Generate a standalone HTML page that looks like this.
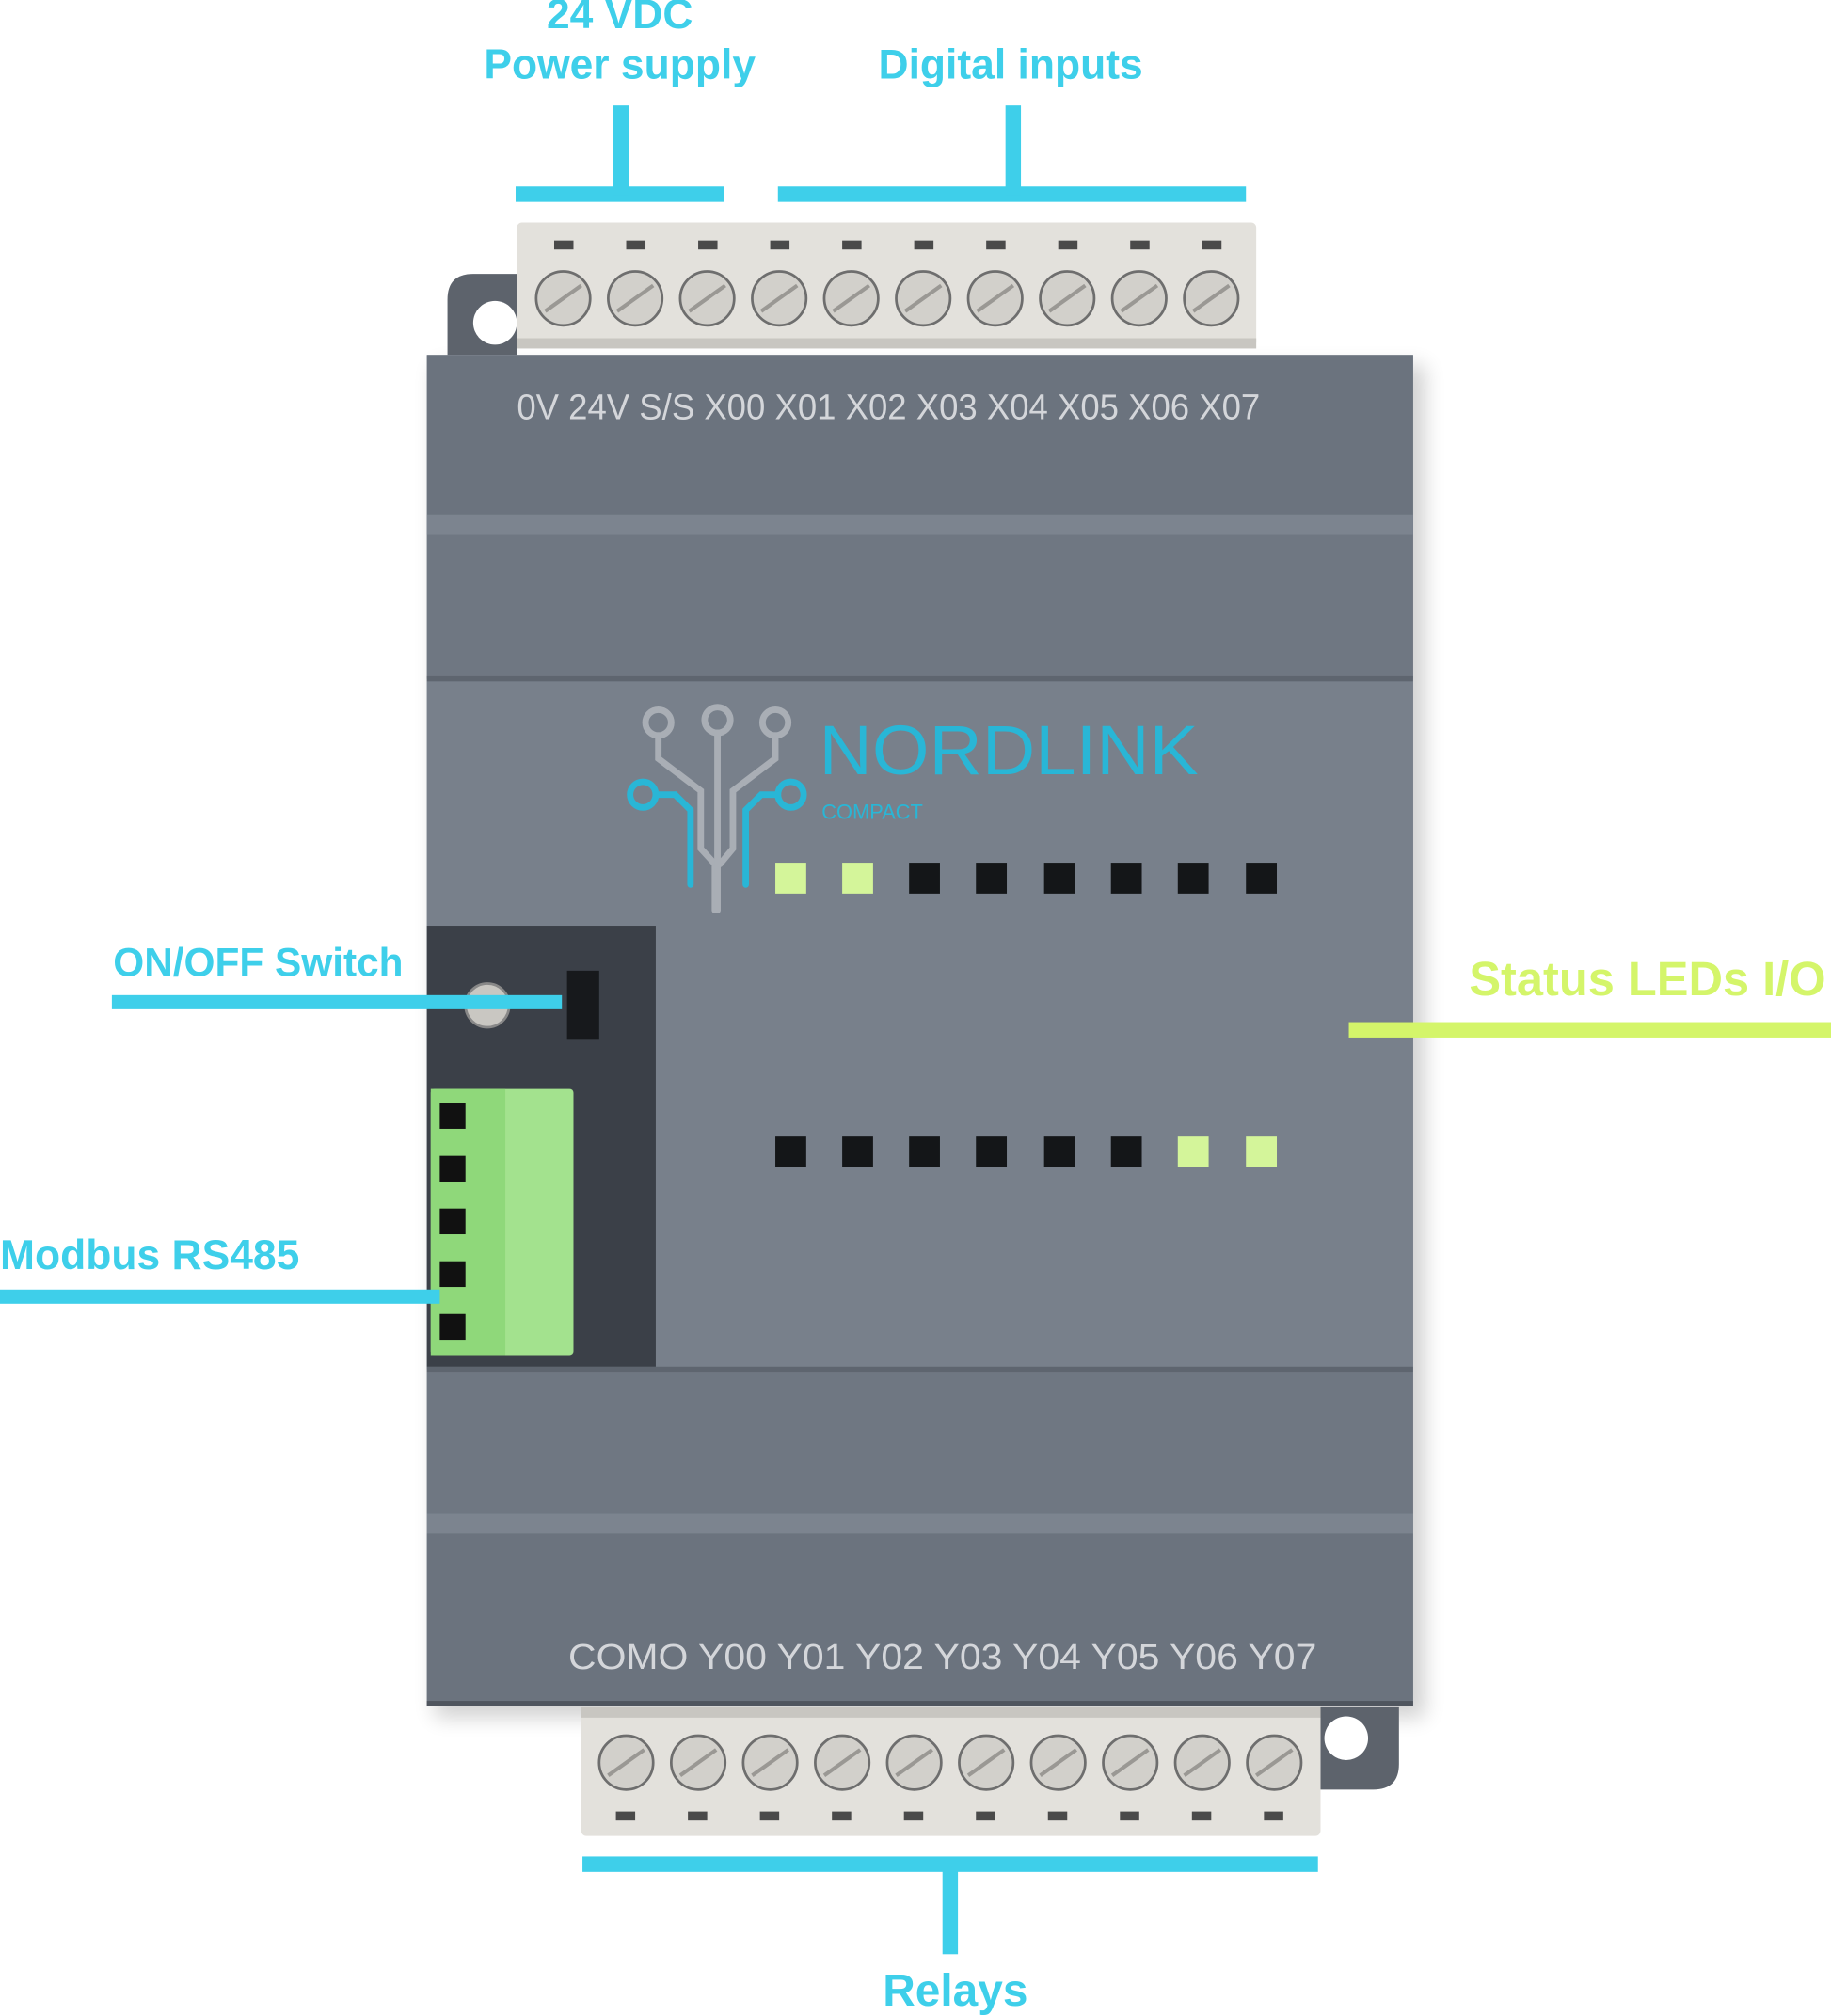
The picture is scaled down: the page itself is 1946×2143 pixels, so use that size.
<!DOCTYPE html>
<html><head><meta charset="utf-8"><style>
html,body{margin:0;padding:0;background:#fff;width:1946px;height:2143px;overflow:hidden}
svg{display:block}
.lab{font-family:"Liberation Sans",sans-serif;font-weight:bold;font-size:32.5px;fill:#3ecfea}
.tl{font-family:"Liberation Sans",sans-serif;font-size:28px;fill:#d4d6da}
</style></head><body>
<svg width="1946" height="2143" viewBox="0 0 1424 1568" xmlns="http://www.w3.org/2000/svg">
<defs>
<filter id="sh" x="-10%" y="-10%" width="120%" height="120%"><feGaussianBlur stdDeviation="8"/></filter>
<g id="screw"><circle r="21" fill="#d2d0cb" stroke="#6e6e6e" stroke-width="2"/><line x1="-14" y1="10" x2="14" y2="-10" stroke="#9a9894" stroke-width="3"/></g>
</defs>
<rect x="338" y="284" width="770" height="1052" fill="#000" opacity="0.18" filter="url(#sh)"/>
<path d="M368 213 H402 V276 H348 V233 Q348 213 368 213Z" fill="#5d636c"/>
<circle cx="385" cy="251" r="17" fill="#fff"/>
<path d="M1027 1328 H1088 V1372 Q1088 1392 1068 1392 H1027Z" fill="#5d636c"/>
<circle cx="1047" cy="1352" r="17" fill="#fff"/>
<rect x="332" y="276" width="767" height="1051" fill="#757d88"/>
<rect x="332" y="276" width="767" height="140" fill="#6b737e"/>
<rect x="332" y="400" width="767" height="16" fill="#7c848f"/>
<rect x="332" y="416" width="767" height="112" fill="#6f7782"/>
<rect x="332" y="526" width="767" height="4" fill="#5e656f"/>
<rect x="332" y="530" width="767" height="535" fill="#78808b"/>
<rect x="332" y="1063" width="767" height="4" fill="#5e656f"/>
<rect x="332" y="1067" width="767" height="110" fill="#6f7782"/>
<rect x="332" y="1177" width="767" height="16" fill="#7c848f"/>
<rect x="332" y="1193" width="767" height="134" fill="#6b737e"/>
<rect x="332" y="1323" width="767" height="4" fill="#4f555e"/>
<rect x="402" y="173" width="575" height="97" rx="4" fill="#e3e1dc"/>
<rect x="402" y="263" width="575" height="8" fill="#c8c6c1"/>
<g fill="#4a4a4a">
<rect x="431" y="187" width="15" height="7"/><rect x="487" y="187" width="15" height="7"/><rect x="543" y="187" width="15" height="7"/><rect x="599" y="187" width="15" height="7"/><rect x="655" y="187" width="15" height="7"/><rect x="711" y="187" width="15" height="7"/><rect x="767" y="187" width="15" height="7"/><rect x="823" y="187" width="15" height="7"/><rect x="879" y="187" width="15" height="7"/><rect x="935" y="187" width="15" height="7"/>
</g>
<use href="#screw" x="438" y="232"/><use href="#screw" x="494" y="232"/><use href="#screw" x="550" y="232"/><use href="#screw" x="606" y="232"/><use href="#screw" x="662" y="232"/><use href="#screw" x="718" y="232"/><use href="#screw" x="774" y="232"/><use href="#screw" x="830" y="232"/><use href="#screw" x="886" y="232"/><use href="#screw" x="942" y="232"/>
<rect x="452" y="1330" width="575" height="98" rx="4" fill="#e3e1dc"/>
<rect x="452" y="1328" width="575" height="8" fill="#c8c6c1"/>
<g fill="#4a4a4a">
<rect x="479" y="1409" width="15" height="7"/><rect x="535" y="1409" width="15" height="7"/><rect x="591" y="1409" width="15" height="7"/><rect x="647" y="1409" width="15" height="7"/><rect x="703" y="1409" width="15" height="7"/><rect x="759" y="1409" width="15" height="7"/><rect x="815" y="1409" width="15" height="7"/><rect x="871" y="1409" width="15" height="7"/><rect x="927" y="1409" width="15" height="7"/><rect x="983" y="1409" width="15" height="7"/>
</g>
<use href="#screw" x="487" y="1371"/><use href="#screw" x="543" y="1371"/><use href="#screw" x="599" y="1371"/><use href="#screw" x="655" y="1371"/><use href="#screw" x="711" y="1371"/><use href="#screw" x="767" y="1371"/><use href="#screw" x="823" y="1371"/><use href="#screw" x="879" y="1371"/><use href="#screw" x="935" y="1371"/><use href="#screw" x="991" y="1371"/>
<text class="tl" x="402" y="326" textLength="578" lengthAdjust="spacingAndGlyphs">0V  24V  S/S  X00  X01  X02  X03  X04  X05  X06  X07</text>
<text class="tl" x="442" y="1298" textLength="582" lengthAdjust="spacingAndGlyphs">COMO   Y00  Y01  Y02  Y03  Y04  Y05  Y06  Y07</text>
<rect x="332" y="720" width="178" height="343" fill="#3b4048"/>
<circle cx="379" cy="782" r="17" fill="#c9c7c2" stroke="#888" stroke-width="2"/>
<rect x="441" y="755" width="25" height="53" fill="#17191c"/>
<rect x="335" y="847" width="111" height="207" rx="3" fill="#a3e28e"/>
<rect x="335" y="847" width="58" height="207" fill="#8fd87a"/>
<g fill="#111"><rect x="342" y="858" width="20" height="20"/><rect x="342" y="899" width="20" height="20"/><rect x="342" y="940" width="20" height="20"/><rect x="342" y="981" width="20" height="20"/><rect x="342" y="1022" width="20" height="20"/></g>
<g fill="none" stroke-width="5" stroke-linecap="round">
<g stroke="#a9aeb5">
<circle cx="512" cy="562" r="10"/><circle cx="558" cy="560" r="10"/><circle cx="603" cy="562" r="10"/>
<path d="M512 572 V590 L545 615 V660 L556 672 V708"/>
<path d="M558 570 V708"/>
<path d="M603 572 V590 L570 615 V660 L560 672"/>
</g>
<g stroke="#29b6d6">
<circle cx="500" cy="618" r="10"/><circle cx="615" cy="618" r="10"/>
<path d="M510 618 H525 L537 630 V688"/>
<path d="M605 618 H592 L580 630 V688"/>
</g>
</g>
<text x="637" y="602" font-family="Liberation Sans,sans-serif" font-size="54" fill="#29b6d6" textLength="295" lengthAdjust="spacingAndGlyphs">NORDLINK</text>
<text x="639" y="637" font-family="Liberation Sans,sans-serif" font-size="16" fill="#29b6d6">COMPACT</text>
<g fill="#141618">
<rect x="707" y="671" width="24" height="24"/><rect x="759" y="671" width="24" height="24"/><rect x="812" y="671" width="24" height="24"/><rect x="864" y="671" width="24" height="24"/><rect x="916" y="671" width="24" height="24"/><rect x="969" y="671" width="24" height="24"/>
<rect x="603" y="884" width="24" height="24"/><rect x="655" y="884" width="24" height="24"/><rect x="707" y="884" width="24" height="24"/><rect x="759" y="884" width="24" height="24"/><rect x="812" y="884" width="24" height="24"/><rect x="864" y="884" width="24" height="24"/>
</g>
<g fill="#d4f59a"><rect x="603" y="671" width="24" height="24"/><rect x="655" y="671" width="24" height="24"/><rect x="916" y="884" width="24" height="24"/><rect x="969" y="884" width="24" height="24"/></g>
<g fill="#3ecfea">
<rect x="401" y="145" width="162" height="12"/><rect x="477" y="82" width="12" height="70"/>
<rect x="605" y="145" width="364" height="12"/><rect x="782" y="82" width="12" height="70"/>
<rect x="453" y="1444" width="572" height="12"/><rect x="733" y="1450" width="12" height="70"/>
<rect x="87" y="774" width="350" height="11"/>
<rect x="0" y="1003" width="342" height="11"/>
</g>
<rect x="1049" y="795" width="375" height="12" fill="#d4f56a"/>
<text class="lab" x="482" y="22" text-anchor="middle">24 VDC</text>
<text class="lab" x="482" y="61" text-anchor="middle">Power supply</text>
<text class="lab" x="786" y="61" text-anchor="middle">Digital inputs</text>
<text class="lab" x="88" y="759" style="font-size:31px">ON/OFF Switch</text>
<text class="lab" x="0" y="987">Modbus RS485</text>
<text class="lab" x="1420" y="774" text-anchor="end" style="fill:#d4f56a;font-size:37px">Status LEDs I/O</text>
<text class="lab" x="743" y="1560" text-anchor="middle" style="font-size:35px">Relays</text>
</svg>
</body></html>
